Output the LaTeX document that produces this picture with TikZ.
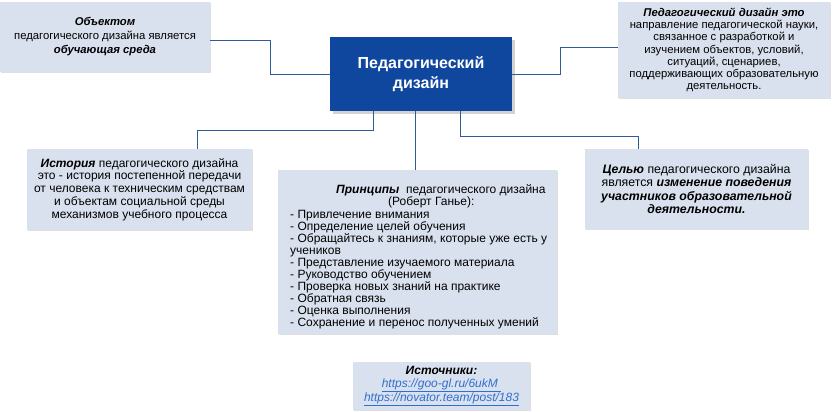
\documentclass[tikz,border=0pt]{standalone}
\usepackage{fontspec}
\setmainfont{Liberation Sans}
\usetikzlibrary{shadows}
\definecolor{boxfill}{HTML}{DAE1EE}
\definecolor{dblue}{HTML}{0F479E}
\definecolor{lnk}{HTML}{2F6FD0}
\definecolor{ln}{HTML}{2D5C96}
\tikzset{
 infobox/.style={fill=boxfill,draw=none,drop shadow={opacity=0.25,shadow xshift=1pt,shadow yshift=-1pt},inner sep=2pt,align=center,font=\fontsize{12}{12.8}\selectfont},
 topbox/.style={infobox,font=\fontsize{11.3}{12.2}\selectfont},
 conn/.style={draw=ln,line width=0.8pt}
}
\begin{document}
\begin{tikzpicture}[x=1pt,y=-1pt]
\useasboundingbox (0,0) rectangle (838,412);
\fill[white] (0,0) rectangle (838,412);
\node[topbox,minimum width=210pt,minimum height=70pt,font=\fontsize{11.3}{14}\selectfont] (obj) at (105,37)
 {\textbf{\textit{Объектом}}\\педагогического дизайна является\\\textbf{\textit{обучающая среда}}};
\node[fill=dblue,text=white,font=\bfseries\fontsize{16}{20}\selectfont,align=center,minimum width=182pt,minimum height=74pt,drop shadow={opacity=0.35}] (pd) at (421,74) {Педагогический\\дизайн};
\node[topbox,minimum width=212pt,minimum height=95pt] (def) at (724,50)
 {\textbf{\textit{Педагогический дизайн это}}\\направление педагогической науки,\\связанное с разработкой и\\изучением объектов, условий,\\ситуаций, сценариев,\\поддерживающих образовательную\\деятельность.};
\node[infobox,minimum width=225pt,minimum height=81pt] (hist) at (139.5,189.5)
 {\textbf{\textit{История}} педагогического дизайна\\это - история постепенной передачи\\от человека к техническим средствам\\и объектам социальной среды\\механизмов учебного процесса};
\node[infobox,minimum width=279pt,minimum height=164pt,text height=152pt,align=left,anchor=north west,inner sep=0pt,font=\fontsize{12}{12.1}\selectfont] (pr) at (278,170)
 {\rule{0pt}{14pt}\hspace*{48pt}\textbf{\textit{Принципы}}\ \ педагогического дизайна\\
 \hspace*{100pt}(Роберт Ганье):\\
 \hspace*{2pt}- Привлечение внимания\\
 \hspace*{2pt}- Определение целей обучения\\
 \hspace*{2pt}- Обращайтесь к знаниям, которые уже есть у\\
 \hspace*{2pt}учеников\\
 \hspace*{2pt}- Представление изучаемого материала\\
 \hspace*{2pt}- Руководство обучением\\
 \hspace*{2pt}- Проверка новых знаний на практике\\
 \hspace*{2pt}- Обратная связь\\
 \hspace*{2pt}- Оценка выполнения\\
 \hspace*{2pt}- Сохранение и перенос полученных умений};
\node[infobox,minimum width=223pt,minimum height=80pt,font=\fontsize{12.3}{13.5}\selectfont] (goal) at (696.5,189)
 {\textbf{\textit{Целью}} педагогического дизайна\\является \textbf{\textit{изменение поведения}}\\\textbf{\textit{участников образовательной}}\\\textbf{\textit{деятельности.}}};
\node[infobox,minimum width=177pt,minimum height=48pt] (src) at (441.5,386)
 {\textbf{\textit{Источники:}}\\\textcolor{lnk}{\textit{\underline{https://goo-gl.ru/6ukM\ }}}\\\textcolor{lnk}{\textit{\underline{https://novator.team/post/183}}}};
\draw[conn] (obj.east|-0,40) -- (270,40) -- (270,74) -- (pd.west);
\draw[conn] (pd.east) -- (560,74) -- (560,47) -- (618,47);
\draw[conn] (373,111) -- (373,130) -- (197,130) -- (197,149);
\draw[conn] (415,111) -- (415,170);
\draw[conn] (460,111) -- (460,136) -- (638,136) -- (638,149);
\end{tikzpicture}
\end{document}
